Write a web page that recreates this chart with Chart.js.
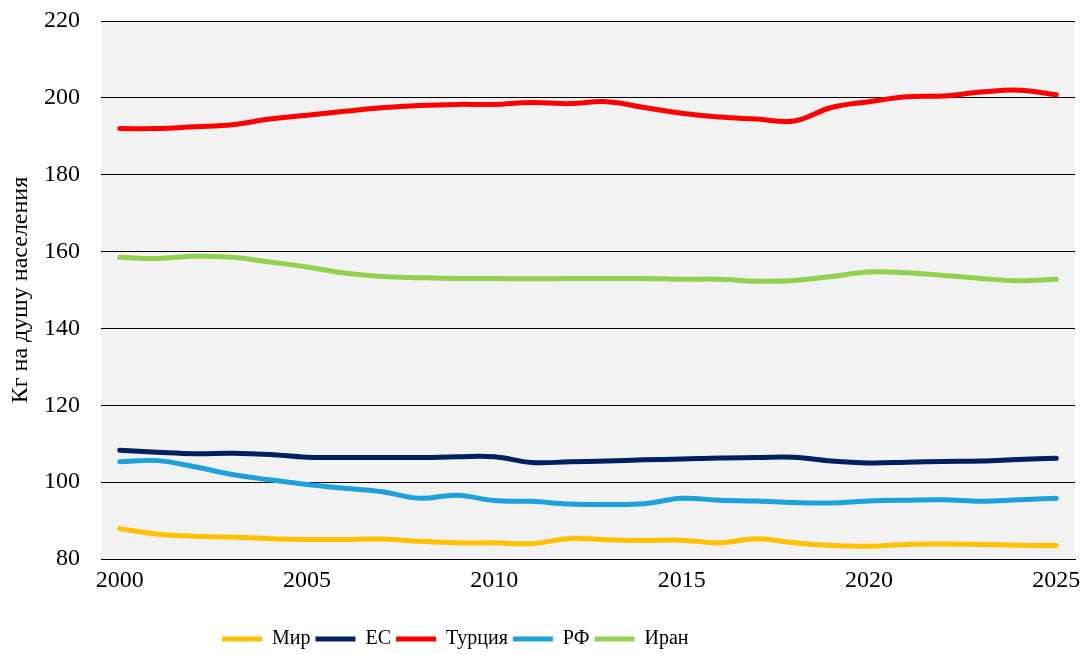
<!DOCTYPE html>
<html>
<head>
<meta charset="utf-8">
<script src="https://cdn.jsdelivr.net/npm/chart.js@4.4.1/dist/chart.umd.min.js"></script>
<style>
  body { margin: 0; background: #fff; }
  #wrap { width: 1086px; height: 655px; }
</style>
</head>
<body>
<div id="wrap"><canvas id="myChart" width="1086" height="655"></canvas></div>
<script>
// years on the x axis
const years = [];
for (let y = 2000; y <= 2025; y++) years.push(String(y));

// values, kg per capita
const mir = [87.9, 86.5, 85.9, 85.7, 85.3, 85.1, 85.1, 85.2, 84.6, 84.2, 84.2, 84.0, 85.3,
             85.0, 84.8, 84.9, 84.2, 85.3, 84.2, 83.5, 83.3, 83.8, 83.9, 83.8, 83.6, 83.5];
const es = [108.3, 107.8, 107.4, 107.5, 107.2, 106.5, 106.4, 106.4, 106.4, 106.6, 106.6, 105.1, 105.3,
            105.5, 105.8, 106.0, 106.3, 106.4, 106.5, 105.5, 105.0, 105.2, 105.4, 105.5, 105.9, 106.2];
const turkey = [192.0, 192.0, 192.5, 193.0, 194.5, 195.5, 196.5, 197.4, 198.0, 198.3, 198.3, 198.8, 198.5,
                199.0, 197.5, 196.0, 195.0, 194.5, 194.0, 197.5, 199.0, 200.3, 200.5, 201.5, 202.0, 200.8];
const rf = [105.3, 105.6, 104.0, 102.0, 100.6, 99.4, 98.4, 97.5, 95.8, 96.6, 95.2, 95.0, 94.3,
            94.2, 94.4, 95.8, 95.3, 95.1, 94.7, 94.6, 95.1, 95.3, 95.4, 95.0, 95.4, 95.8];
const iran = [158.5, 158.2, 158.8, 158.5, 157.3, 156.0, 154.4, 153.5, 153.2, 153.0, 153.0, 152.9, 153.0,
              153.0, 153.0, 152.8, 152.8, 152.3, 152.5, 153.5, 154.7, 154.5, 153.8, 153.0, 152.4, 152.8];

const yTicks = [80, 100, 120, 140, 160, 180, 200, 220];

const FONT = "'Liberation Serif', 'Times New Roman', serif";

// gray fill behind the plot area + move legend to where it sits in the original
const plotBg = {
    id: 'plotBg',
    afterLayout(chart) {
        const lg = chart.legend;
        if (lg) {
            const w = lg.right - lg.left;
            lg.left = 217;
            lg.right = lg.left + w;
            lg.top += 4;
            lg.bottom += 4;
        }
    },
    beforeDraw(chart) {
        const a = chart.chartArea;
        const ctx = chart.ctx;
        ctx.save();
        ctx.fillStyle = '#f2f2f2';
        ctx.fillRect(a.left, a.top, a.right - a.left, a.bottom - a.top);
        ctx.restore();
    }
};

function series(label, data, color) {
    return {
        label: label,
        data: data,
        borderColor: color,
        backgroundColor: color,
        borderWidth: 5,
        borderCapStyle: 'round',
        borderJoinStyle: 'round',
        pointRadius: 0,
        pointHoverRadius: 0,
        pointStyle: 'line',
        tension: 0.4,
        fill: false
    };
}

const ctx = document.getElementById('myChart').getContext('2d');
const chart = new Chart(ctx, {
    type: 'line',
    data: {
        labels: years,
        datasets: [
            series('Мир', mir, '#ffc000'),
            series('ЕС', es, '#002060'),
            series('Турция', turkey, '#ff0000'),
            series('РФ', rf, '#1ba1db'),
            series('Иран', iran, '#92d050')
        ]
    },
    options: {
        responsive: false,
        animation: false,
        layout: { padding: { top: 21, right: 11, left: 0, bottom: 0 } },
        plugins: {
            tooltip: { enabled: false },
            legend: {
                position: 'bottom',
                align: 'start',
                labels: {
                    color: '#000',
                    font: { family: FONT, size: 20 },
                    usePointStyle: true,
                    pointStyleWidth: 40,
                    boxHeight: 5,
                    padding: 5
                }
            }
        },
        scales: {
            x: {
                offset: true,
                grid: { display: false, drawTicks: false },
                border: { display: true, color: '#000', width: 1 },
                ticks: {
                    autoSkip: false,
                    maxRotation: 0,
                    padding: 7,
                    color: '#000',
                    font: { family: FONT, size: 24 },
                    callback: function (v, i) {
                        const y = Number(years[i]);
                        return y % 5 === 0 ? years[i] : '';
                    }
                },
                afterFit(scale) {
                    scale.height = 61;
                    scale.paddingLeft = 0;
                    scale.paddingRight = 0;
                }
            },
            y: {
                min: 80,
                max: 220,
                afterBuildTicks(scale) { scale.ticks = yTicks.map(v => ({ value: v })); },
                grid: { color: '#000', lineWidth: 1, drawTicks: false },
                border: { display: false },
                ticks: {
                    padding: 21,
                    color: '#000',
                    font: { family: FONT, size: 24 }
                },
                title: {
                    display: true,
                    text: 'Кг на душу населения',
                    color: '#000',
                    font: { family: FONT, size: 24 },
                    padding: { top: 6, bottom: 0 }
                },
                afterFit(scale) {
                    scale.width = 101;
                    scale.paddingTop = 0;
                    scale.paddingBottom = 0;
                }
            }
        }
    },
    plugins: [plotBg]
});
</script>
</body>
</html>
